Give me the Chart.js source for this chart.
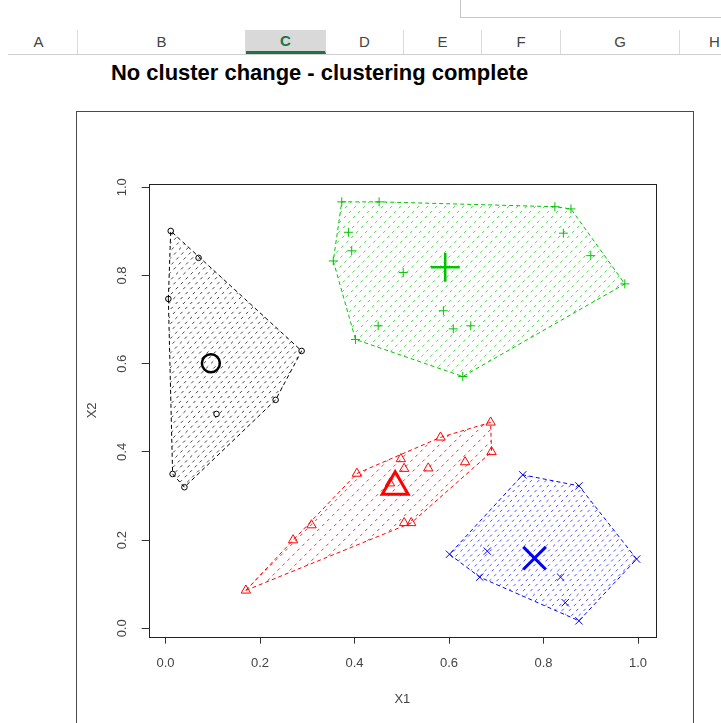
<!DOCTYPE html>
<html>
<head>
<meta charset="utf-8">
<script src="https://cdn.jsdelivr.net/npm/chart.js@4.4.1/dist/chart.umd.min.js"></script>
<style>
  html, body { margin: 0; padding: 0; background: #fff; }
  body { width: 721px; height: 723px; position: relative; overflow: hidden; font-family: 'Liberation Sans', Arial, sans-serif; }
  .formula-box { position: absolute; left: 460px; top: -2px; width: 270px; height: 19px; border-left: 1px solid #c6c6c6; border-bottom: 1px solid #c6c6c6; }
  .col-head { position: absolute; top: 30px; height: 24px; line-height: 24px; text-align: center; font-size: 15px; color: #444; border-right: 1px solid #dadada; box-sizing: border-box; }
  .col-head.sel { background: #d9d9d9; color: #217346; font-weight: bold; border-bottom: 3px solid #217346; line-height: 22px; }
  .head-line { position: absolute; left: 8px; top: 54px; width: 713px; height: 1px; background: #cfcfcf; }
  .sheet-title { position: absolute; left: 111px; top: 60px; font-family: 'Liberation Sans Narrow', 'Liberation Sans', Arial, sans-serif; font-weight: bold; font-size: 22px; color: #000; white-space: nowrap; transform-origin: 0 0; }
  .frame { position: absolute; left: 76px; top: 111px; width: 616px; height: 700px; border: 1.5px solid #4a4a4a; }
  #chart { position: absolute; left: 0; top: 0; }
</style>
</head>
<body>
<div class="formula-box"></div>
<div id="headers"></div>
<div class="head-line"></div>
<div class="sheet-title" id="title">No cluster change - clustering complete</div>
<div class="frame"></div>
<canvas id="chart" width="721" height="723"></canvas>
<script>
const columnLetters = ['A', 'B', 'C', 'D', 'E', 'F', 'G', 'H'];
const columnEdges = [0, 78, 246, 326, 404, 482, 561, 680, 750];

const tickValues = [0, 0.2, 0.4, 0.6, 0.8, 1.0];

// cluster 1 - black circles
const c1X1 = [0.011, 0.070, 0.006, 0.288, 0.233, 0.108, 0.015, 0.040];
const c1X2 = [0.901, 0.840, 0.747, 0.629, 0.518, 0.486, 0.350, 0.320];
// cluster 2 - green crosses
const c2X1 = [0.373, 0.452, 0.387, 0.394, 0.355, 0.503, 0.824, 0.858, 0.842, 0.900, 0.972, 0.588, 0.450, 0.609, 0.646, 0.402, 0.629];
const c2X2 = [0.967, 0.967, 0.898, 0.856, 0.833, 0.807, 0.956, 0.951, 0.896, 0.845, 0.781, 0.720, 0.686, 0.679, 0.686, 0.655, 0.571];
// cluster 3 - red triangles
const c3X1 = [0.688, 0.690, 0.582, 0.634, 0.498, 0.505, 0.556, 0.405, 0.505, 0.520, 0.309, 0.270, 0.170, 0.475];
const c3X2 = [0.467, 0.400, 0.433, 0.377, 0.384, 0.362, 0.363, 0.351, 0.239, 0.239, 0.234, 0.200, 0.086, 0.329];
// cluster 4 - blue x
const c4X1 = [0.756, 0.875, 0.997, 0.601, 0.681, 0.665, 0.836, 0.846, 0.875];
const c4X2 = [0.348, 0.323, 0.157, 0.168, 0.175, 0.116, 0.116, 0.058, 0.017];
// cluster centres
const centerX1 = [0.096, 0.592, 0.486, 0.781];
const centerX2 = [0.601, 0.819, 0.321, 0.159];

// spreadsheet header
const headers = document.getElementById('headers');
columnLetters.forEach((letter, i) => {
    const d = document.createElement('div');
    d.className = 'col-head' + (letter === 'C' ? ' sel' : '');
    d.style.left = columnEdges[i] + 'px';
    d.style.width = (columnEdges[i + 1] - columnEdges[i]) + 'px';
    d.textContent = letter;
    headers.appendChild(d);
});

// squeeze the sheet title to the width of the original cell text
const titleEl = document.getElementById('title');
titleEl.style.transform = 'scaleX(' + (417 / titleEl.offsetWidth) + ')';

function toPoints(xs, ys) {
    return xs.map((x, i) => ({ x: x, y: ys[i] }));
}

// convex hull (monotone chain), closed
function hull(points) {
    const p = points.slice().sort((a, b) => a.x - b.x || a.y - b.y);
    const cross = (o, a, b) => (a.x - o.x) * (b.y - o.y) - (a.y - o.y) * (b.x - o.x);
    const lower = [];
    p.forEach(pt => {
        while (lower.length >= 2 && cross(lower[lower.length - 2], lower[lower.length - 1], pt) <= 0) lower.pop();
        lower.push(pt);
    });
    const upper = [];
    p.slice().reverse().forEach(pt => {
        while (upper.length >= 2 && cross(upper[upper.length - 2], upper[upper.length - 1], pt) <= 0) upper.pop();
        upper.push(pt);
    });
    const h = lower.slice(0, -1).concat(upper.slice(0, -1));
    h.push(h[0]);
    return h;
}

const clusters = [
    { pts: toPoints(c1X1, c1X2), color: '#000000', hatch: 'rgba(0,0,0,0.75)', step: 7.3, style: 'circle', r: 2.8, cr: 9, cw: 2.5 },
    { pts: toPoints(c2X1, c2X2), color: '#00c400', hatch: 'rgba(0,200,0,0.7)', step: 9, style: 'cross', r: 4.5, cr: 14.5, cw: 2.5 },
    { pts: toPoints(c3X1, c3X2), color: '#ff0000', hatch: 'rgba(255,0,0,0.85)', step: 12, style: 'triangle', r: 5.4, cr: 15, cw: 3 },
    { pts: toPoints(c4X1, c4X2), color: '#0000ff', hatch: 'rgba(0,0,255,0.7)', step: 7.3, style: 'crossRot', r: 5.2, cr: 16, cw: 3 }
];

const datasets = [];
clusters.forEach((c, i) => {
    datasets.push({
        data: [{ x: centerX1[i], y: centerX2[i] }],
        pointStyle: c.style,
        pointRadius: c.cr,
        pointBorderWidth: c.cw,
        pointBorderColor: c.color,
        pointBackgroundColor: 'rgba(0,0,0,0)'
    });
    datasets.push({
        data: c.pts,
        pointStyle: c.style,
        pointRadius: c.r,
        pointBorderWidth: 1,
        pointBorderColor: c.color,
        pointBackgroundColor: 'rgba(0,0,0,0)'
    });
    datasets.push({
        data: hull(c.pts),
        showLine: true,
        borderColor: c.color,
        borderWidth: 1,
        borderDash: [4, 3],
        pointRadius: 0,
        fill: false,
        hatchColor: c.hatch,
        hatchStep: c.step
    });
});

// box round the plot plus dashed 45 degree shading inside each hull
const hatchPlugin = {
    id: 'hatch',
    beforeDatasetsDraw(chart) {
        const ctx = chart.ctx;
        const area = chart.chartArea;
        ctx.save();
        ctx.lineWidth = 1;
        ctx.strokeStyle = '#222';
        ctx.strokeRect(Math.round(area.left) + 0.5, Math.round(area.top) + 0.5,
            Math.round(area.right - area.left), Math.round(area.bottom - area.top));
        ctx.restore();
        chart.data.datasets.forEach((ds, i) => {
            if (!ds.hatchColor) return;
            const pts = chart.getDatasetMeta(i).data;
            let minX = Infinity, maxX = -Infinity, minY = Infinity, maxY = -Infinity;
            ctx.save();
            ctx.beginPath();
            pts.forEach((p, k) => {
                if (k) ctx.lineTo(p.x, p.y); else ctx.moveTo(p.x, p.y);
                minX = Math.min(minX, p.x); maxX = Math.max(maxX, p.x);
                minY = Math.min(minY, p.y); maxY = Math.max(maxY, p.y);
            });
            ctx.closePath();
            ctx.clip();
            ctx.strokeStyle = ds.hatchColor;
            ctx.lineWidth = 1;
            ctx.setLineDash([3, 4]);
            for (let c = minX + minY; c <= maxX + maxY; c += ds.hatchStep) {
                ctx.beginPath();
                ctx.moveTo(c - maxY, maxY);
                ctx.lineTo(c - minY, minY);
                ctx.stroke();
            }
            ctx.restore();
        });
    }
};

const font = { family: "'Liberation Sans', Arial, sans-serif", size: 13 };

new Chart(document.getElementById('chart'), {
    type: 'scatter',
    data: { datasets: datasets },
    plugins: [hatchPlugin],
    options: {
        responsive: false,
        animation: false,
        events: [],
        layout: { padding: { top: 184, right: 65, bottom: 0, left: 0 } },
        plugins: {
            legend: { display: false },
            tooltip: { enabled: false }
        },
        scales: {
            x: {
                type: 'linear',
                min: -0.0356,
                max: 1.038,
                afterBuildTicks: s => { s.ticks = tickValues.map(v => ({ value: v })); },
                afterFit: s => { s.height = 86.3; },
                border: { display: false },
                grid: { drawOnChartArea: false, drawTicks: true, tickLength: 7, color: '#333', tickColor: '#333' },
                ticks: { padding: 12, color: '#444', font: font, maxRotation: 0, autoSkip: false, callback: v => v.toFixed(1) },
                title: { display: true, text: 'X1', color: '#444', font: font, padding: { top: 0, bottom: 16 } }
            },
            y: {
                type: 'linear',
                min: -0.019,
                max: 1.0075,
                afterBuildTicks: s => { s.ticks = tickValues.map(v => ({ value: v })); },
                afterFit: s => { s.width = 148.7; },
                border: { display: false },
                grid: { drawOnChartArea: false, drawTicks: true, tickLength: 7, color: '#333', tickColor: '#333' },
                ticks: { padding: 10, color: '#444', font: font, minRotation: 90, maxRotation: 90, crossAlign: 'center', autoSkip: false, callback: v => v.toFixed(1) },
                title: { display: true, text: 'X2', color: '#444', font: font, padding: { top: 85, bottom: 0 } }
            }
        }
    }
});
</script>
</body>
</html>
